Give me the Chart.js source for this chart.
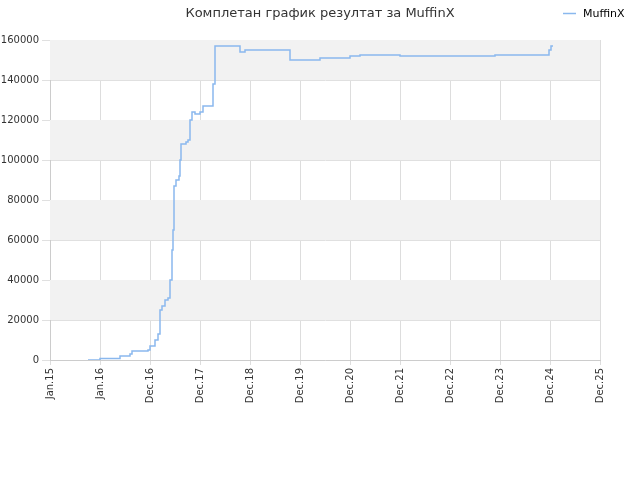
<!DOCTYPE html><html><head><script src="https://cdn.jsdelivr.net/npm/chart.js@4"></script>
<style>body{margin:0}#w{width:640px;height:480px}</style></head><body><div id="w"><canvas id="c"></canvas></div>
<script>
const years=[2015.76,2016.0,2016.4,2016.6,2016.64,2016.96,2017.0,2017.1,2017.16,2017.2,2017.24,2017.3,2017.36,2017.4,2017.44,2017.46,2017.48,2017.52,2017.58,2017.6,2017.62,2017.72,2017.76,2017.8,2017.84,2017.9,2018.0,2018.06,2018.24,2018.26,2018.3,2018.8,2018.9,2019.7,2019.8,2020.0,2020.4,2021.0,2021.2,2022.0,2022.9,2023.2,2023.9,2024.96,2024.98,2025.02,2025.06];
const values=[0,800,2000,3000,4500,5000,7000,10000,13000,25000,27000,30000,31000,40000,55000,65000,87000,90000,92000,100000,108000,109000,110000,120000,124000,123000,124000,127000,127000,138000,157000,154000,155000,155000,150000,150000,151000,152000,152500,152000,152000,152000,152500,152500,155000,157000,157000];
const tickLabels=['Jan.15','Jan.16','Dec.16','Dec.17','Dec.18','Dec.19','Dec.20','Dec.21','Dec.22','Dec.23','Dec.24','Dec.25'];
const tickVals=[2015,2016,2017,2018,2019,2020,2021,2022,2023,2024,2025,2026];
const pts=years.map((y,i)=>({x:y,y:values[i]}));
const bands={id:'bands',beforeDatasetsDraw(c){const {ctx,chartArea:a,scales:{y}}=c;ctx.save();ctx.fillStyle='#f2f2f2';
for(let v=20000;v<160000;v+=40000){const t=y.getPixelForValue(v+20000),b=y.getPixelForValue(v);ctx.fillRect(a.left,t,a.right-a.left,b-t);}
ctx.restore();},
afterDraw(c){const ctx=c.ctx;ctx.save();ctx.font='13px "DejaVu Sans"';ctx.fillStyle='#333';ctx.textAlign='center';ctx.fillText('Комплетан график резултат за MuffinX',320,17);
ctx.font='11px "DejaVu Sans"';ctx.textAlign='left';ctx.fillStyle='#000';ctx.fillText('MuffinX',583,17);ctx.strokeStyle='#8ab8ee';ctx.lineWidth=1.5;ctx.beginPath();ctx.moveTo(563,13.5);ctx.lineTo(576,13.5);ctx.stroke();ctx.restore();}};
new Chart(document.getElementById('c'),{type:'line',data:{datasets:[{data:pts,borderColor:'#8ab8ee',borderWidth:1.5,stepped:true,pointRadius:0,fill:false}]},
options:{responsive:true,maintainAspectRatio:false,animation:false,layout:{padding:{top:40,right:40,left:0,bottom:70}},
plugins:{legend:{display:false},tooltip:{enabled:false}},
scales:{x:{type:'linear',min:2015,max:2026,afterBuildTicks(s){s.ticks=tickVals.map(v=>({value:v}));},afterFit(s){s.height=50;},
ticks:{autoSkip:false,maxRotation:90,minRotation:90,color:'#333',font:{size:10,family:'DejaVu Sans'},callback:(v)=>tickLabels[tickVals.indexOf(v)]},grid:{color:'#ddd',drawTicks:true,tickLength:5},border:{color:'#ccc'}},
y:{min:0,max:160000,afterFit(s){s.width=50;},ticks:{stepSize:20000,color:'#333',font:{size:10,family:'DejaVu Sans'},callback:v=>String(v)},grid:{color:'#e0e0e0'},border:{color:'#ccc'}}}},plugins:[bands]});
</script></body></html>
